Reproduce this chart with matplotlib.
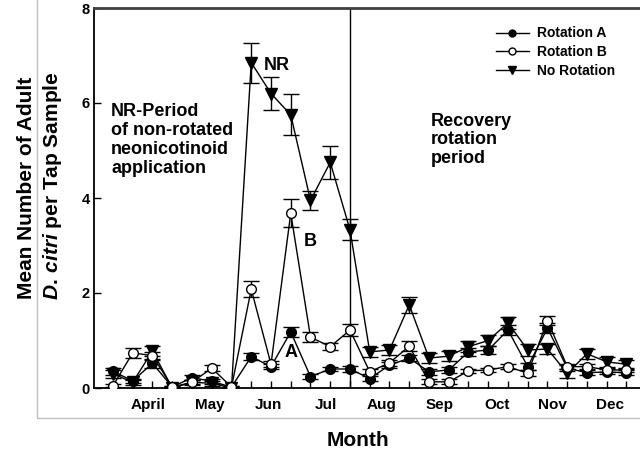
import matplotlib
matplotlib.use("Agg")
import matplotlib.pyplot as plt
import numpy as np
from matplotlib.patches import Rectangle
from matplotlib.lines import Line2D

plt.rcParams['font.family'] = ['Liberation Sans', 'DejaVu Sans']
plt.rcParams['mathtext.fontset'] = 'custom'
plt.rcParams['mathtext.it'] = 'Liberation Sans:italic:bold'
plt.rcParams['mathtext.rm'] = 'Liberation Sans:bold'

# ---- data ----
sample_idx = list(range(27))
rot_a = [0.35, 0.15, 0.52, 0.02, 0.22, 0.14, 0.02, 0.66, 0.45, 1.18, 0.24, 0.40, 0.40, 0.20,
         0.48, 0.63, 0.34, 0.38, 0.76, 0.80, 1.22, 0.45, 1.26, 0.42, 0.32, 0.34, 0.32]
rot_a_err = [0.08, 0.05, 0.10, 0.02, 0.05, 0.05, 0.02, 0.07, 0.06, 0.10, 0.05, 0.05, 0.06, 0.05,
             0.06, 0.07, 0.06, 0.06, 0.08, 0.08, 0.10, 0.08, 0.10, 0.06, 0.05, 0.05, 0.05]
rot_b = [0.05, 0.74, 0.68, 0.02, 0.12, 0.42, 0.02, 2.08, 0.50, 3.68, 1.07, 0.87, 1.22, 0.34,
         0.53, 0.88, 0.13, 0.13, 0.36, 0.38, 0.45, 0.31, 1.42, 0.45, 0.45, 0.38, 0.38]
rot_b_err = [0.03, 0.10, 0.08, 0.02, 0.04, 0.06, 0.02, 0.17, 0.06, 0.30, 0.10, 0.08, 0.12, 0.05,
             0.06, 0.10, 0.05, 0.05, 0.05, 0.05, 0.06, 0.06, 0.10, 0.05, 0.05, 0.05, 0.05]
no_rot = [0.30, 0.12, 0.78, 0.00, 0.12, 0.10, 0.00, 6.85, 6.20, 5.75, 3.95, 4.75, 3.33, 0.76,
          0.80, 1.75, 0.63, 0.67, 0.87, 1.00, 1.37, 0.80, 0.82, 0.31, 0.72, 0.55, 0.50]
no_rot_err = [0.08, 0.05, 0.10, 0.02, 0.05, 0.05, 0.02, 0.42, 0.35, 0.43, 0.20, 0.35, 0.22, 0.10,
              0.10, 0.17, 0.10, 0.10, 0.12, 0.12, 0.12, 0.12, 0.10, 0.10, 0.10, 0.10, 0.10]
month_labels = ["April", "May", "Jun", "Jul", "Aug", "Sep", "Oct", "Nov", "Dec"]
month_pos = [1.77, 4.91, 7.85, 10.78, 13.57, 16.56, 19.44, 22.23, 25.16]
recovery_start = 12

fig = plt.figure(figsize=(6.4, 4.54), dpi=100)
# outer light-gray frame
fig.add_artist(Rectangle((37/640, 36/454), 1.0, 1.0, transform=fig.transFigure,
                         fill=False, edgecolor='#c0c0c0', lw=1.0, clip_on=False))

ax = fig.add_axes([94/640, 66/454, 578/640, 380/454])
ax.set_xlim(-0.962, -0.962 + 578/19.75)
ax.set_ylim(0, 8)

common = dict(color='black', lw=1.0, capsize=6, elinewidth=1.0, capthick=1.0)
ax.errorbar(sample_idx, no_rot, yerr=no_rot_err, marker='v', ms=9, mfc='black',
            mec='black', zorder=3, **common)
ax.errorbar(sample_idx, rot_a, yerr=rot_a_err, marker='o', ms=7, mfc='black',
            mec='black', zorder=4, **common)
ax.errorbar(sample_idx, rot_b, yerr=rot_b_err, marker='o', ms=7, mfc='white',
            mec='black', zorder=5, **common)

ax.axvline(recovery_start, color='black', lw=1.0, zorder=2)

# spines
ax.spines['right'].set_visible(False)
ax.spines['top'].set_color('#404040')
ax.spines['top'].set_linewidth(2.0)
ax.spines['left'].set_linewidth(1.3)
ax.spines['bottom'].set_linewidth(1.3)

ax.set_xticks(sample_idx)
ax.set_xticklabels([])
ax.tick_params(axis='x', direction='in', length=5, width=1)
ax.set_yticks([0, 2, 4, 6, 8])
ax.set_yticklabels(['0', '2', '4', '6', '8'], fontsize=10.5, fontweight='bold')
ax.tick_params(axis='y', direction='in', length=5, width=1, pad=3)

for lbl, pos in zip(month_labels, month_pos):
    ax.text(pos, -0.35, lbl, ha='center', va='center', fontsize=11,
            fontweight='bold', clip_on=False)

fig.text(358/640, 1 - 441/454, 'Month', ha='center', va='center', fontsize=15,
         fontweight='bold')
fig.text(27/640, 1 - 188/454, 'Mean Number of Adult', rotation=90, ha='center',
         va='center', fontsize=15, fontweight='bold')
fig.text(53/640, 1 - 186/454, r'$D.\,citri$ per Tap Sample', rotation=90, ha='center',
         va='center', fontsize=15, fontweight='bold')

ax.text(-0.1, 6.0, 'NR-Period\nof non-rotated\nneonicotinoid\napplication', ha='left',
        va='top', fontsize=13, fontweight='bold', linespacing=1.15)
ax.text(16.1, 5.8, 'Recovery\nrotation\nperiod', ha='left', va='top', fontsize=13,
        fontweight='bold', linespacing=1.15)
ax.text(8.3, 6.8, 'NR', ha='center', va='center', fontsize=13, fontweight='bold')
ax.text(10.0, 3.09, 'B', ha='center', va='center', fontsize=13, fontweight='bold')
ax.text(9.0, 0.75, 'A', ha='center', va='center', fontsize=13, fontweight='bold')

handles = [
    Line2D([], [], color='black', lw=1.0, marker='o', ms=5, mfc='black', mec='black'),
    Line2D([], [], color='black', lw=1.0, marker='o', ms=5, mfc='white', mec='black'),
    Line2D([], [], color='black', lw=1.0, marker='v', ms=6, mfc='black', mec='black'),
]
labels = ['Rotation A', 'Rotation B', 'No Rotation']
leg = ax.legend(handles, labels, loc='upper left',
                bbox_to_anchor=((490 - 94)/578, 0.966), frameon=False,
                prop={'weight': 'bold', 'size': 10}, handlelength=2.4,
                handletextpad=0.6, labelspacing=0.35, borderaxespad=0)

fig.savefig('out.png', dpi=100)
